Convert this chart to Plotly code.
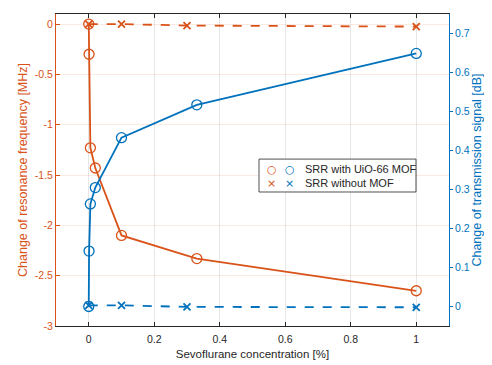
import plotly.graph_objects as go

# Data
conc_mof = [0, 0.001, 0.005, 0.02, 0.1, 0.33, 1]
freq_mof = [0, -0.3, -1.23, -1.43, -2.1, -2.33, -2.65]
trans_mof = [0, 0.142, 0.263, 0.305, 0.433, 0.517, 0.649]

conc_nomof = [0, 0.1, 0.3, 1]
freq_nomof = [0, 0, -0.015, -0.025]
trans_nomof = [0.003, 0.003, -0.001, -0.002]

legend_labels = ["SRR with UiO-66 MOF", "SRR without MOF"]
legend_symbols = ["○", "×"]

ORANGE = "#D95319"
BLUE = "#0072BD"
DARK = "#262626"
FONT = "Liberation Sans, Arial, sans-serif"

fig = go.Figure()
fig.add_trace(go.Scatter(x=conc_nomof, y=freq_nomof, mode="lines+markers", yaxis="y",
                         line=dict(color=ORANGE, width=1.8, dash="dash"),
                         marker=dict(symbol="x-thin-open", size=7, line=dict(color=ORANGE, width=1.8)),
                         showlegend=False))
fig.add_trace(go.Scatter(x=conc_nomof, y=trans_nomof, mode="lines+markers", yaxis="y2",
                         line=dict(color=BLUE, width=1.8, dash="dash"),
                         marker=dict(symbol="x-thin-open", size=7, line=dict(color=BLUE, width=1.8)),
                         showlegend=False))
fig.add_trace(go.Scatter(x=conc_mof, y=freq_mof, mode="lines+markers", yaxis="y",
                         line=dict(color=ORANGE, width=1.8),
                         marker=dict(symbol="circle-open", size=10, line=dict(color=ORANGE, width=1.3)),
                         showlegend=False))
fig.add_trace(go.Scatter(x=conc_mof, y=trans_mof, mode="lines+markers", yaxis="y2",
                         line=dict(color=BLUE, width=1.8),
                         marker=dict(symbol="circle-open", size=10, line=dict(color=BLUE, width=1.3)),
                         showlegend=False))

# Legend box (MATLAB-style, two colour symbols per entry)
fig.add_shape(type="rect", xref="paper", yref="paper", x0=0.5165, x1=0.916, y0=0.4295, y1=0.535,
              fillcolor="white", line=dict(color=DARK, width=0.8), layer="above")
row_y = [0.503, 0.458]
for i, (lab, s) in enumerate(zip(legend_labels, legend_symbols)):
    ssize = 11 if s == "○" else 11
    fig.add_annotation(xref="paper", yref="paper", x=0.549, y=row_y[i], xanchor="center", yanchor="middle",
                       text=s, showarrow=False, font=dict(family="DejaVu Sans", size=ssize, color=ORANGE))
    fig.add_annotation(xref="paper", yref="paper", x=0.595, y=row_y[i], xanchor="center", yanchor="middle",
                       text=s, showarrow=False, font=dict(family="DejaVu Sans", size=ssize, color=BLUE))
    fig.add_annotation(xref="paper", yref="paper", x=0.628, y=row_y[i], xanchor="left", yanchor="middle",
                       text=lab, showarrow=False, font=dict(family=FONT, size=11, color=DARK))

fig.update_layout(
    width=484, height=357,
    margin=dict(l=48, r=43, t=6, b=39),
    plot_bgcolor="white", paper_bgcolor="white",
    font=dict(family=FONT, size=10.5, color=DARK),
    xaxis=dict(range=[-0.1, 1.1], tickvals=[0, 0.2, 0.4, 0.6, 0.8, 1],
               ticktext=["0", "0.2", "0.4", "0.6", "0.8", "1"], automargin=False,
               showgrid=True, gridcolor="#E6E6E6", zeroline=False,
               showline=True, linecolor=DARK, linewidth=1, mirror="ticks",
               ticks="inside", ticklen=4, tickcolor=DARK, ticklabelstandoff=3,
               title=dict(text="Sevoflurane concentration [%]", font=dict(size=11.5, color=DARK), standoff=6)),
    yaxis=dict(range=[-3, 0.1], tickvals=[0, -0.5, -1, -1.5, -2, -2.5, -3],
               ticktext=["0", "-0.5", "-1", "-1.5", "-2", "-2.5", "-3"], automargin=False,
               showgrid=True, gridcolor="rgba(217,83,25,0.12)", zeroline=False,
               showline=True, linecolor=ORANGE, linewidth=1,
               ticks="inside", ticklen=4, tickcolor=ORANGE,
               tickfont=dict(color=ORANGE),
               title=dict(text="Change of resonance frequency [MHz]", font=dict(size=12.5, color=ORANGE), standoff=4)),
    yaxis2=dict(range=[-0.05, 0.75], overlaying="y", side="right",
                tickvals=[0, 0.1, 0.2, 0.3, 0.4, 0.5, 0.6, 0.7],
                ticktext=["0", "0.1", "0.2", "0.3", "0.4", "0.5", "0.6", "0.7"], automargin=False,
                showgrid=False, zeroline=False,
                showline=True, linecolor=BLUE, linewidth=1,
                ticks="outside", ticklen=3, tickcolor=BLUE,
                tickfont=dict(color=BLUE),
                title=dict(text="Change of transmission signal [dB]", font=dict(size=12.5, color=BLUE), standoff=2)),
)

fig.write_html("out.html")
